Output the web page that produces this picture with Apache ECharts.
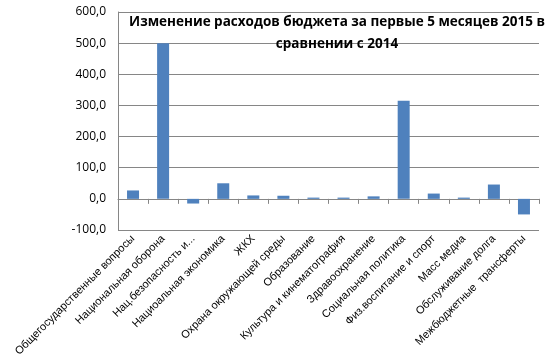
<!DOCTYPE html>
<html>
<head>
<meta charset="utf-8">
<script src="https://cdn.jsdelivr.net/npm/echarts@6/dist/echarts.min.js"></script>
<style>
  html, body { margin: 0; padding: 0; background: #fff; }
  #main { width: 553px; height: 355px; }
</style>
</head>
<body>
<div id="main"></div>
<script>
// categories and values
const categories = [
  'Общегосударственные вопросы',
  'Национальная оборона',
  'Нац.безопасность и...',
  'Нациоальная экономика',
  'ЖКХ',
  'Охрана окружающей среды',
  'Образование',
  'Культура и кинематография',
  'Здравоохранение',
  'Социальная политика',
  'Физ.воспитание и спорт',
  'Масс медиа',
  'Обслуживание долга',
  'Межбюджетные  трансферты'
];
const changes = [27, 500, -15, 50, 11, 10, 4, 4, 8, 315, 17, 4, 46, -50];
const yTicks = [-100, 0, 100, 200, 300, 400, 500, 600];

const chart = echarts.init(document.getElementById('main'));

const option = {
  animation: false,
  title: {
    text: 'Изменение расходов бюджета за первые 5 месяцев 2015 в\nсравнении с 2014',
    left: 332,
    top: 6,
    textAlign: 'center',
    textStyle: {
      fontFamily: 'Open Sans',
      fontSize: 13.5,
      fontWeight: 'bold',
      color: '#000',
      lineHeight: 22
    }
  },
  grid: { left: 118, right: 14, top: 12, bottom: 125, outerBoundsMode: 'none', containLabel: false },
  xAxis: {
    type: 'category',
    data: categories,
    axisLine: { onZero: true, lineStyle: { color: '#868686' } },
    axisTick: { show: true, length: 5, lineStyle: { color: '#868686' } },
    axisLabel: {
      interval: 0,
      rotate: 45,
      margin: 7,
      fontFamily: 'Liberation Sans',
      fontSize: 11,
      color: '#000'
    }
  },
  yAxis: {
    type: 'value',
    min: yTicks[0],
    max: yTicks[yTicks.length - 1],
    interval: 100,
    axisLine: { show: true, lineStyle: { color: '#868686' } },
    axisTick: { show: false },
    splitLine: { lineStyle: { color: '#868686' } },
    axisLabel: {
      margin: 12,
      fontFamily: 'Open Sans',
      fontSize: 12,
      color: '#000',
      formatter: v => v.toFixed(1).replace('.', ',')
    }
  },
  series: [
    {
      type: 'bar',
      data: changes,
      barWidth: 12,
      itemStyle: { color: '#4F81BD' }
    }
  ]
};

chart.setOption(option);
</script>
</body>
</html>
